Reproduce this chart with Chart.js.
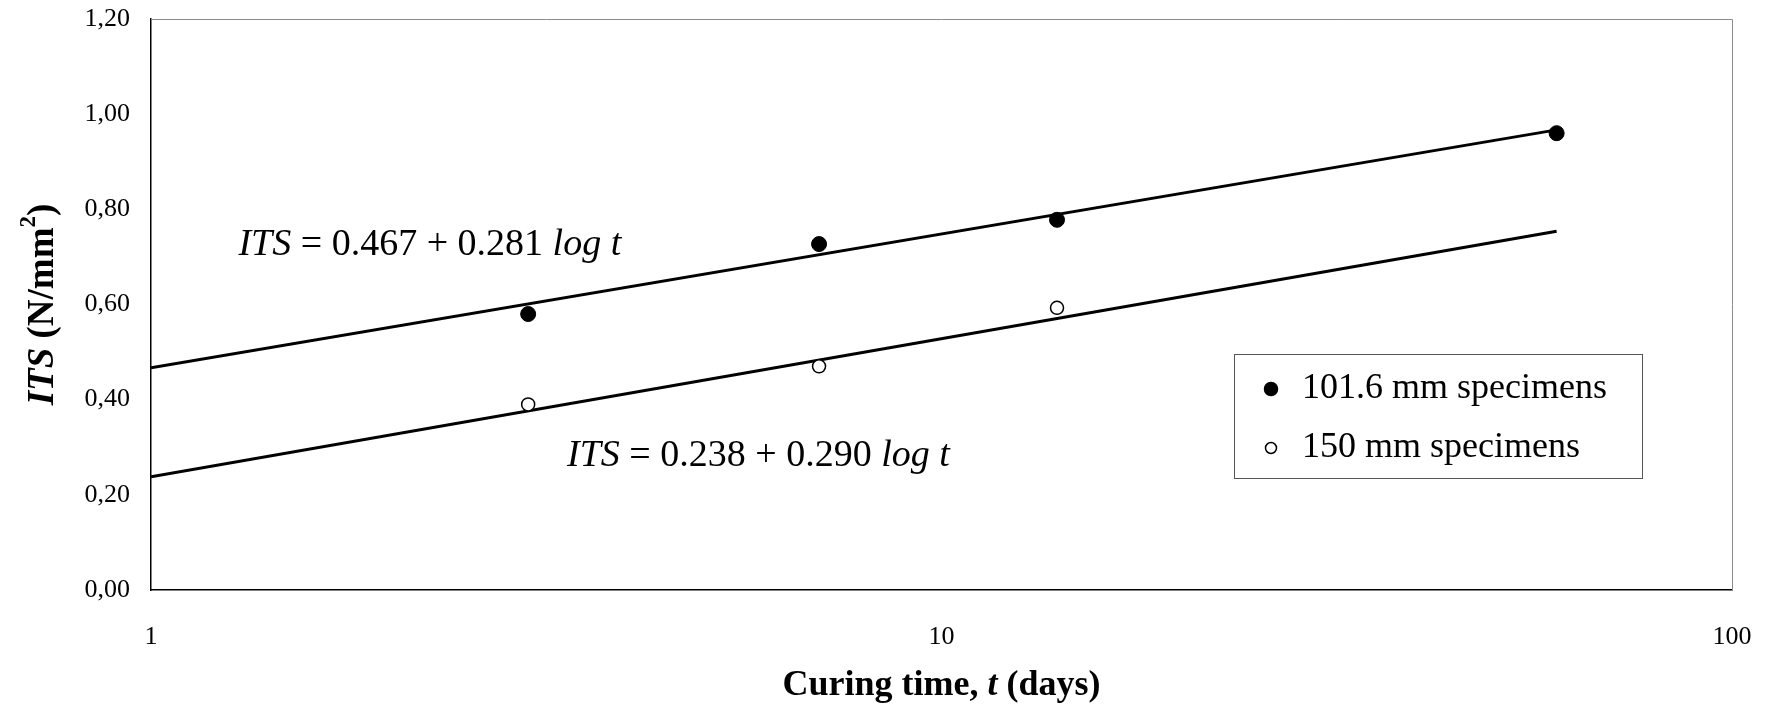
<!DOCTYPE html>
<html>
<head>
<meta charset="utf-8">
<script src="https://cdn.jsdelivr.net/npm/chart.js@4/dist/chart.umd.min.js"></script>
<style>
  html, body { margin: 0; padding: 0; background: #fff; }
  #wrap { width: 1769px; height: 705px; position: relative; }
</style>
</head>
<body>
<div id="wrap"><canvas id="c" width="1769" height="705"></canvas></div>
<script>
// ---- data ----
const tDays = [3, 7, 14, 60];
const its101 = [0.58, 0.727, 0.778, 0.96];
const tDays150 = [3, 7, 14];
const its150 = [0.39, 0.47, 0.593];
const fitT = [1, 60];
const fitUpper = [0.467, 0.967];
const fitLower = [0.238, 0.754];
const xTicks = [1, 10, 100];
const yTicks = ['0,00', '0,20', '0,40', '0,60', '0,80', '1,00', '1,20'];
const legendLabels = ['101.6 mm specimens', '150 mm specimens'];
const eqUpper = [{t: 'ITS', i: true}, {t: ' = 0.467 + 0.281 '}, {t: 'log t', i: true}];
const eqLower = [{t: 'ITS', i: true}, {t: ' = 0.238 + 0.290 '}, {t: 'log t', i: true}];
const eqUpperAt = [1.29, 0.725];
const eqLowerAt = [3.36, 0.282];

const SERIF = '"Liberation Serif", "Times New Roman", serif';

function font(size, seg) {
  return (seg.i ? 'italic ' : '') + (seg.b ? 'bold ' : '') + size + 'px ' + SERIF;
}
function richWidth(ctx, segs, size) {
  let w = 0;
  for (const s of segs) { ctx.font = font(s.sup ? size * 0.62 : size, s); w += ctx.measureText(s.t).width; }
  return w;
}
function drawRich(ctx, segs, x, y, size, align) {
  const w = richWidth(ctx, segs, size);
  let cx = align === 'center' ? x - w / 2 : x;
  ctx.textBaseline = 'middle';
  ctx.textAlign = 'left';
  for (const s of segs) {
    const sz = s.sup ? size * 0.62 : size;
    ctx.font = font(sz, s);
    ctx.fillText(s.t, cx, s.sup ? y - size * 0.38 : y);
    cx += ctx.measureText(s.t).width;
  }
}
function noOverflow(s) {
  s.paddingTop = 0; s.paddingBottom = 0; s.paddingLeft = 0; s.paddingRight = 0;
}

const decor = {
  id: 'decor',
  afterDraw(chart) {
    const ctx = chart.ctx;
    const xs = chart.scales.x, ys = chart.scales.y, ca = chart.chartArea;
    ctx.save();
    ctx.fillStyle = '#000';
    // frame top/right in gray
    ctx.strokeStyle = '#8c8c8c';
    ctx.lineWidth = 1;
    ctx.beginPath();
    ctx.moveTo(ca.left, ca.top + 0.5); ctx.lineTo(ca.right + 0.5, ca.top + 0.5); ctx.lineTo(ca.right + 0.5, ca.bottom);
    ctx.stroke();
    // equations
    drawRich(ctx, eqUpper, xs.getPixelForValue(eqUpperAt[0]), ys.getPixelForValue(eqUpperAt[1]), 38, 'left');
    drawRich(ctx, eqLower, xs.getPixelForValue(eqLowerAt[0]), ys.getPixelForValue(eqLowerAt[1]), 38, 'left');
    // legend box
    const bx = ca.right - 498, by = ca.top + 335, bw = 408, bh = 124;
    ctx.fillStyle = '#fff';
    ctx.fillRect(bx, by, bw, bh);
    ctx.strokeStyle = '#555';
    ctx.lineWidth = 1;
    ctx.strokeRect(bx + 0.5, by + 0.5, bw, bh);
    const rows = [by + 35, by + 94];
    chart.data.datasets.slice(0, 2).forEach((ds, k) => {
      ctx.beginPath();
      ctx.arc(bx + 37, rows[k], k === 0 ? 6.5 : 5.5, 0, Math.PI * 2);
      ctx.fillStyle = ds.pointBackgroundColor;
      ctx.fill();
      ctx.lineWidth = 1.5;
      ctx.strokeStyle = '#000';
      ctx.stroke();
      ctx.fillStyle = '#000';
      drawRich(ctx, [{t: legendLabels[k]}], bx + 68, rows[k], 36, 'left');
    });
    // axis titles
    drawRich(ctx, [{t: 'Curing time, ', b: true}, {t: 't', b: true, i: true}, {t: ' (days)', b: true}],
      (ca.left + ca.right) / 2, 686, 36, 'center');
    ctx.save();
    ctx.translate(43, (ca.top + ca.bottom) / 2);
    ctx.rotate(-Math.PI / 2);
    drawRich(ctx, [{t: 'ITS', b: true, i: true}, {t: ' (N/mm', b: true}, {t: '2', b: true, sup: true}, {t: ')', b: true}],
      0, 0, 37, 'center');
    ctx.restore();
    ctx.restore();
  }
};

new Chart(document.getElementById('c'), {
  type: 'scatter',
  data: {
    datasets: [
      { label: legendLabels[0], data: tDays.map((t, k) => ({x: t, y: its101[k]})),
        pointRadius: 7.5, pointBackgroundColor: '#000', pointBorderColor: '#000', pointBorderWidth: 1, order: 0 },
      { label: legendLabels[1], data: tDays150.map((t, k) => ({x: t, y: its150[k]})),
        pointRadius: 6.5, pointBackgroundColor: '#fff', pointBorderColor: '#000', pointBorderWidth: 1.5, order: 0 },
      { label: 'fit101', data: fitT.map((t, k) => ({x: t, y: fitUpper[k]})), showLine: true,
        borderColor: '#000', borderWidth: 3, pointRadius: 0, order: 1 },
      { label: 'fit150', data: fitT.map((t, k) => ({x: t, y: fitLower[k]})), showLine: true,
        borderColor: '#000', borderWidth: 3, pointRadius: 0, order: 1 }
    ]
  },
  options: {
    responsive: false,
    animation: false,
    layout: { padding: { top: 19, right: 37, left: 0, bottom: 0 } },
    plugins: { legend: { display: false }, tooltip: { enabled: false } },
    scales: {
      x: {
        type: 'logarithmic', min: 1, max: 100,
        afterBuildTicks(s) { s.ticks = xTicks.map(v => ({value: v})); },
        afterFit(s) { s.height = 115; noOverflow(s); },
        grid: { display: false, drawOnChartArea: false, drawTicks: true, tickLength: 8, tickColor: '#000' },
        border: { color: '#000', width: 1.5 },
        ticks: { color: '#000', font: { family: SERIF, size: 26 }, padding: 24, maxRotation: 0,
          callback: (v) => String(v) }
      },
      y: {
        min: 0, max: 1.2,
        afterBuildTicks(s) { s.ticks = yTicks.map((t, k) => ({value: k * 0.2})); },
        afterFit(s) { s.width = 151; noOverflow(s); },
        grid: { display: false, drawOnChartArea: false, drawTicks: true, tickLength: 7, tickColor: '#000' },
        border: { color: '#000', width: 1.5 },
        ticks: { color: '#000', font: { family: SERIF, size: 26 }, padding: 14,
          callback: (v, i) => yTicks[i] }
      }
    }
  },
  plugins: [decor]
});
</script>
</body>
</html>
